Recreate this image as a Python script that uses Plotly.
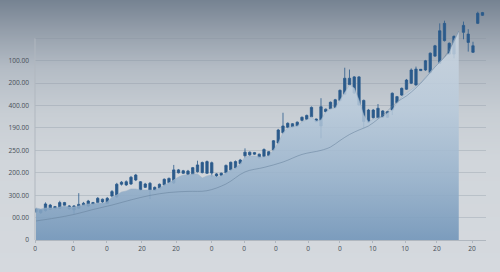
import base64, struct, zlib
import plotly.graph_objects as go

# ---------------- data ----------------
opens  = [126,134,131,156,140,142,167,152,134,142,155,152,167,167,182,164,196,193,249,260,
          250,268,260,235,253,235,231,246,256,255,313,298,308,293,305,301,298,345,295,289,
          300,313,321,341,376,392,383,383,373,394,402,433,479,503,519,509,534,539,550,540,
          509,584,586,592,623,651,722,656,728,623,580,546,546,576,548,580,640,647,673,700,
          763,756,759,747,821,789,967,878,830,None,927,919,867,967,1003]
highs  = [143,138,168,161,152,175,170,156,156,209,170,179,170,192,185,192,223,255,263,266,
          286,295,263,255,259,239,252,275,279,335,317,313,313,326,354,350,355,350,299,301,
          337,350,355,362,409,395,393,386,409,397,446,496,568,525,522,529,551,560,596,542,
          633,587,618,630,672,769,761,732,732,627,585,585,607,580,576,659,643,681,719,766,
          774,763,804,837,871,967,979,882,913,None,975,941,885,1019,1018]
lows   = [121,116,127,134,136,138,152,134,116,138,152,147,156,163,165,161,192,188,243,241,
          246,263,219,232,183,219,228,241,252,250,297,295,290,290,301,297,295,281,281,284,
          297,308,317,337,366,375,380,364,368,373,397,429,473,500,500,505,529,536,547,527,
          454,569,583,587,618,647,690,652,598,498,522,542,542,545,545,558,609,643,670,696,
          688,755,755,743,817,786,886,826,811,None,896,841,835,964,1000]
closes = [137,122,161,137,149,167,155,140,152,159,164,174,161,186,170,186,216,249,258,246,
          280,290,223,250,223,222,249,271,275,313,300,309,293,323,335,346,350,299,286,298,
          333,347,350,357,392,380,390,367,404,377,443,491,509,521,505,526,548,556,592,528,
          595,573,615,626,668,722,694,728,603,529,526,580,588,548,573,655,613,677,714,759,
          692,762,800,834,867,934,890,830,909,None,958,882,838,1012,1015]

# upper edge of the shaded area, one value per session up to where it ends
area_top = [143,138,143,143,143,147,152,147,147,152,156,161,161,165,165,170,192,201,214,219,
            228,228,223,223,223,223,232,246,255,268,281,290,290,295,295,277,286,290,281,286,
            299,313,321,339,371,375,375,371,371,375,402,433,478,500,505,509,527,536,549,531,
            536,571,585,589,625,661,692,679,625,558,527,540,545,549,567,580,612,638,656,670,
            688,701,728,750,777,795,817,835,893,933]

# moving-average line, sampled sessions
ma_idx = [0,4,8,12,16,20,24,28,32,36,40,44,48,52,56,60,62,64,66,68,70,72,74,76,78,80,82,84,86,88,89]
ma_val = [85,98,114,136,156,179,199,212,217,220,250,304,324,348,382,400,415,444,471,491,
          509,540,576,616,643,679,723,772,817,888,933]

y_tickvals = [0,100,200,300,400,500,600,700,800,900]
y_ticktext = ["0","00.00","300.00","200.00","250.00","190.00","400.00","200.00","100.00",""]
x_tickvals = [-0.2,7.8,14.9,22.3,29.5,37.0,43.8,50.5,57.3,64.0,70.9,77.7,84.4,91.8]
x_ticktext = ["0","0","0","20","20","0","0","0","0","0","10","10","20","20"]

sessions = list(range(len(opens)))
area_x = list(range(len(area_top)))

# ---------------- background gradient image ----------------
def lerp(a, b, t):
    return tuple(int(round(a[k] + (b[k] - a[k]) * t)) for k in range(3))

bg_stops = [(0.0, (118,131,146)), (0.12, (150,160,172)), (0.25, (180,188,197)),
            (0.42, (200,206,212)), (0.6, (209,214,219)), (1.0, (213,217,222))]

def bg_color(f):
    for (f0, c0), (f1, c1) in zip(bg_stops[:-1], bg_stops[1:]):
        if f0 <= f <= f1:
            return lerp(c0, c1, (f - f0) / (f1 - f0))
    return bg_stops[-1][1]

H = 272
rows = b"".join(b"\x00" + bytes(bg_color(r / (H - 1))) * 2 for r in range(H))
def chunk(t, d):
    return struct.pack(">I", len(d)) + t + d + struct.pack(">I", zlib.crc32(t + d) & 0xffffffff)
png = (b"\x89PNG\r\n\x1a\n" + chunk(b"IHDR", struct.pack(">IIBBBBB", 2, H, 8, 2, 0, 0, 0))
       + chunk(b"IDAT", zlib.compress(rows)) + chunk(b"IEND", b""))
bg_uri = "data:image/png;base64," + base64.b64encode(png).decode()

# ---------------- figure ----------------
W, ML, MR, MT, MB = 500, 35, 14, 5, 32
pw, ph = W - ML - MR, H - MT - MB

fig = go.Figure()

fig.add_trace(go.Scatter(
    x=area_x, y=area_top, mode="lines", fill="tozeroy",
    line=dict(color="rgba(155,176,198,0.75)", width=0.7),
    fillgradient=dict(type="vertical", start=0, stop=900,
                      colorscale=[[0, "rgba(116,151,186,0.92)"],
                                  [0.3, "rgba(150,177,203,0.88)"],
                                  [0.65, "rgba(184,202,219,0.85)"],
                                  [1, "rgba(205,216,227,0.82)"]]),
    hoverinfo="skip", showlegend=False))

fig.add_trace(go.Scatter(
    x=ma_idx, y=ma_val, mode="lines", line=dict(color="rgba(100,126,154,0.75)", width=0.7, shape="spline"),
    hoverinfo="skip", showlegend=False))

candle_col = "#2b5b8b"
fig.add_trace(go.Candlestick(
    x=sessions, open=opens, high=highs, low=lows, close=closes,
    increasing=dict(line=dict(color=candle_col, width=0.8), fillcolor=candle_col),
    decreasing=dict(line=dict(color=candle_col, width=0.8), fillcolor=candle_col),
    whiskerwidth=0, showlegend=False))

axis_col = "#b0b7bf"
fig.add_shape(type="line", xref="paper", yref="y", x0=0, x1=0, y0=0, y1=900,
              line=dict(color=axis_col, width=1))

fig.add_layout_image(dict(source=bg_uri, xref="paper", yref="paper",
                          x=-ML / pw, y=1 + MT / ph, sizex=W / pw, sizey=H / ph,
                          xanchor="left", yanchor="top", sizing="stretch", layer="below"))

tick_font = dict(family="Open Sans", size=6.6, color="#474e57")
fig.update_layout(
    width=W, height=H, margin=dict(l=ML, r=MR, t=MT, b=MB, pad=0),
    paper_bgcolor="rgba(0,0,0,0)", plot_bgcolor="rgba(0,0,0,0)",
    font=dict(family="Open Sans"),
    xaxis=dict(range=[-0.21, 94.74], showgrid=False, zeroline=False, showline=True,
               linecolor=axis_col, linewidth=1, tickmode="array", tickvals=x_tickvals,
               ticktext=x_ticktext, ticks="outside", ticklen=2, tickcolor=axis_col,
               tickfont=tick_font, rangeslider=dict(visible=False)),
    yaxis=dict(range=[0, 1049], tickmode="array", tickvals=y_tickvals, ticktext=y_ticktext,
               showgrid=True, gridcolor="rgba(135,146,158,0.32)", gridwidth=0.8,
               zeroline=False, showline=False, ticks="", ticklabelstandoff=5,
               tickfont=tick_font),
    showlegend=False,
)

fig.write_html("out.html")
